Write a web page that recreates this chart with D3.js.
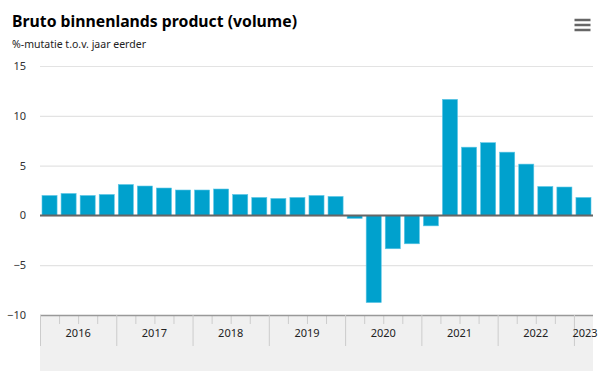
<!DOCTYPE html>
<html>
<head>
<meta charset="utf-8">
<script src="https://cdn.jsdelivr.net/npm/d3@7"></script>
<style>
  body { margin: 0; background: #fff; }
  text { font-family: "Noto Sans", "DejaVu Sans", sans-serif; }
</style>
</head>
<body>
<div id="chart"></div>
<script>
// Chart set up
var svgWidth = 600;
var svgHeight = 371;

var margin = { top: 66, right: 7, bottom: 56, left: 40 };
var width = svgWidth - margin.left - margin.right;
var height = svgHeight - margin.top - margin.bottom;

// Data: year-on-year volume change per quarter, 2016 Q1 - 2023 Q1
var years = ["2016", "2017", "2018", "2019", "2020", "2021", "2022", "2023"];
var quarters = [
  "2016 Q1", "2016 Q2", "2016 Q3", "2016 Q4",
  "2017 Q1", "2017 Q2", "2017 Q3", "2017 Q4",
  "2018 Q1", "2018 Q2", "2018 Q3", "2018 Q4",
  "2019 Q1", "2019 Q2", "2019 Q3", "2019 Q4",
  "2020 Q1", "2020 Q2", "2020 Q3", "2020 Q4",
  "2021 Q1", "2021 Q2", "2021 Q3", "2021 Q4",
  "2022 Q1", "2022 Q2", "2022 Q3", "2022 Q4",
  "2023 Q1"
];
var growth = [
  2.0, 2.2, 2.0, 2.1,
  3.1, 2.95, 2.75, 2.55,
  2.55, 2.65, 2.1, 1.8,
  1.7, 1.8, 2.0, 1.9,
  -0.3, -8.75, -3.35, -2.85,
  -1.05, 11.65, 6.85, 7.3,
  6.35, 5.15, 2.9, 2.85,
  1.8
];
var yTicks = [-10, -5, 0, 5, 10, 15];

var svg = d3.select("#chart")
  .append("svg")
  .attr("width", svgWidth)
  .attr("height", svgHeight);

// Title and subtitle
svg.append("text")
  .attr("x", 12).attr("y", 27)
  .attr("font-size", 16).attr("font-weight", "bold")
  .attr("fill", "#000")
  .attr("textLength", 285).attr("lengthAdjust", "spacingAndGlyphs")
  .text("Bruto binnenlands product (volume)");

svg.append("text")
  .attr("x", 12).attr("y", 48)
  .attr("font-size", 11.5)
  .attr("fill", "#222")
  .attr("textLength", 134).attr("lengthAdjust", "spacingAndGlyphs")
  .text("%-mutatie t.o.v. jaar eerder");

// Menu icon
[20, 25, 30].forEach(function(y) {
  svg.append("line")
    .attr("x1", 574.5).attr("x2", 590.5)
    .attr("y1", y).attr("y2", y)
    .attr("stroke", "#666").attr("stroke-width", 2.5);
});

var chartGroup = svg.append("g")
  .attr("transform", `translate(${margin.left}, ${margin.top})`);

// Scales
var xBand = d3.scaleBand()
  .domain(quarters)
  .range([0, width])
  .paddingInner(0.21)
  .paddingOuter(0.105);

var xEdge = d3.scaleLinear()
  .domain([0, quarters.length])
  .range([0, width]);

var yLinearScale = d3.scaleLinear()
  .domain([-10, 15])
  .range([height, 0]);

// Grey band under the plot
chartGroup.append("rect")
  .attr("x", 0).attr("y", height)
  .attr("width", width).attr("height", svgHeight - margin.top - height)
  .attr("fill", "#f0f0f0");

// Gridlines + y labels
var leftAxis = d3.axisLeft(yLinearScale)
  .tickValues(yTicks)
  .tickSize(-width)
  .tickPadding(14);

var yAxisG = chartGroup.append("g").call(leftAxis);
yAxisG.select(".domain").remove();
yAxisG.selectAll("line").attr("stroke", "#e3e3e3").attr("stroke-width", 1.2);
yAxisG.selectAll("text")
  .attr("font-size", 11)
  .attr("fill", "#333")
  .attr("font-family", "Noto Sans, sans-serif");

// Bars
chartGroup.selectAll("rect.bar")
  .data(growth)
  .enter()
  .append("rect")
  .attr("class", "bar")
  .attr("x", (d, i) => xBand(quarters[i]))
  .attr("width", xBand.bandwidth())
  .attr("y", d => yLinearScale(Math.max(0, d)))
  .attr("height", d => Math.abs(yLinearScale(d) - yLinearScale(0)))
  .attr("fill", "#00a1cd")
  .attr("stroke", "#5cc6e6")
  .attr("stroke-width", 0.6);

// Zero line
chartGroup.append("line")
  .attr("x1", 0).attr("x2", width)
  .attr("y1", yLinearScale(0)).attr("y2", yLinearScale(0))
  .attr("stroke", "#666").attr("stroke-width", 2);

// X axis: long ticks at year edges, short ticks at quarter edges
var yearEdges = d3.range(0, quarters.length, 4);
var quarterEdges = d3.range(1, quarters.length).filter(i => i % 4 !== 0);

var minorAxis = d3.axisBottom(xEdge).tickValues(quarterEdges).tickSize(9).tickFormat("");
var majorAxis = d3.axisBottom(xEdge).tickValues(yearEdges).tickSize(31).tickFormat("");

var minorG = chartGroup.append("g").attr("transform", `translate(0, ${height})`).call(minorAxis);
var majorG = chartGroup.append("g").attr("transform", `translate(0, ${height})`).call(majorAxis);
minorG.select(".domain").remove();
minorG.selectAll("line").attr("stroke", "#ccc");
majorG.selectAll("line").attr("stroke", "#ccc");
majorG.select(".domain").attr("stroke", "#999").attr("stroke-width", 1.5).attr("d", `M0,0.5H${width}`);

// Year labels, centred on their quarters
chartGroup.selectAll("text.year")
  .data(years)
  .enter()
  .append("text")
  .attr("class", "year")
  .attr("x", (d, i) => {
    var first = i * 4;
    var last = Math.min(first + 3, quarters.length - 1);
    return (xEdge(first) + xEdge(last + 1)) / 2 + (d === "2023" ? 1.5 : 0);
  })
  .attr("y", height + 22)
  .attr("text-anchor", "middle")
  .attr("font-size", 11)
  .attr("fill", "#222")
  .text(d => d);
</script>
</body>
</html>
